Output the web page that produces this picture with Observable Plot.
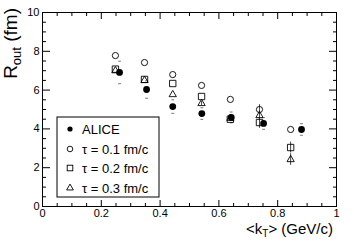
<!DOCTYPE html>
<html><head><meta charset="utf-8">
<script src="https://cdn.jsdelivr.net/npm/d3@7"></script>
<script src="https://cdn.jsdelivr.net/npm/@observablehq/plot@0.6"></script>
<style>
body{margin:0;background:#fff;font-family:"Liberation Sans",Arial,sans-serif}
#wrap{position:relative;width:354px;height:241px}
#wrap svg{display:block}
</style></head><body><div id="wrap"></div>
<script>
// ---- data ----
const aliceKt   = [0.262, 0.354, 0.443, 0.542, 0.642, 0.752, 0.881];
const aliceR    = [6.91, 6.03, 5.15, 4.79, 4.59, 4.28, 3.97];
const aliceStat = [0.08, 0.08, 0.08, 0.08, 0.08, 0.1, 0.12];
const aliceSys  = [0.58, 0.45, 0.35, 0.3, 0.28, 0.3, 0.3];

const modelKt = [0.248, 0.347, 0.443, 0.541, 0.639, 0.738, 0.844];
const tau01   = [7.78, 7.42, 6.80, 6.24, 5.52, 5.00, 3.97];
const tau01E  = [0, 0, 0, 0, 0, 0.25, 0];
const tau02   = [7.08, 6.55, 6.34, 5.67, 4.50, 4.33, 3.04];
const tau02E  = [0, 0, 0, 0, 0.12, 0.3, 0.28];
const tau03   = [7.00, 6.50, 5.77, 5.31, 4.55, 4.69, 2.42];
const tau03E  = [0, 0, 0, 0.1, 0.12, 0.25, 0.3];

const xMajor = [0, 0.2, 0.4, 0.6, 0.8, 1];
const xMajorLabels = ["0", "0.2", "0.4", "0.6", "0.8", "1"];
const xMinor = [0.05,0.1,0.15,0.25,0.3,0.35,0.45,0.5,0.55,0.65,0.7,0.75,0.85,0.9,0.95];
const yMajor = [0, 2, 4, 6, 8, 10];
const yMinor = [0.5,1,1.5,2.5,3,3.5,4.5,5,5.5,6.5,7,7.5,8.5,9,9.5];

const legendLabels = ["ALICE", "τ = 0.1 fm/c", "τ = 0.2 fm/c", "τ = 0.3 fm/c"];

// ---- tables ----
const alice = aliceKt.map((k, i) => ({kt: k, r: aliceR[i], stat: aliceStat[i], sys: aliceSys[i]}));
const sysMarks = alice.flatMap(d => [{kt: d.kt, r: d.r + d.sys}, {kt: d.kt, r: d.r - d.sys}]);
const mk = (vals, errs) => modelKt.map((k, i) => ({kt: k, r: vals[i], e: errs[i]}));
const m1 = mk(tau01, tau01E), m2 = mk(tau02, tau02E), m3 = mk(tau03, tau03E);

const hbar = {draw(ctx, size) { const r = Math.sqrt(size / Math.PI); ctx.moveTo(-r, 0); ctx.lineTo(r, 0); }};

const errRule = (data, stroke) => Plot.ruleX(data.filter(d => d.e > 0), {x: "kt", y1: d => d.r - d.e, y2: d => d.r + d.e, stroke, strokeWidth: 1});

const plot = Plot.plot({
  width: 354, height: 241,
  marginLeft: 42, marginRight: 18, marginTop: 12, marginBottom: 35,
  style: {fontFamily: "'Liberation Sans', Arial, sans-serif", fontSize: "11px", background: "white", color: "black", overflow: "visible"},
  x: {domain: [0, 1]},
  y: {domain: [0, 10]},
  marks: [
    Plot.axisX(xMajor, {anchor: "bottom", tickSize: -6, tickPadding: 9, tickFormat: (d) => xMajorLabels[xMajor.indexOf(d)], label: null, fontSize: 11}),
    Plot.axisX(xMinor, {anchor: "bottom", tickSize: -3, fill: "none", label: null}),
    Plot.axisX(xMajor, {anchor: "top", tickSize: -6, fill: "none", label: null}),
    Plot.axisX(xMinor, {anchor: "top", tickSize: -3, fill: "none", label: null}),
    Plot.axisY(yMajor, {anchor: "left", tickSize: -8, tickPadding: 11, tickFormat: d => String(d), label: null, fontSize: 11}),
    Plot.axisY(yMinor, {anchor: "left", tickSize: -4, fill: "none", label: null}),
    Plot.axisY(yMajor, {anchor: "right", tickSize: -8, fill: "none", label: null}),
    Plot.axisY(yMinor, {anchor: "right", tickSize: -4, fill: "none", label: null}),
    Plot.frame({stroke: "black"}),
    errRule(m1, "#444"), errRule(m2, "#444"), errRule(m3, "#444"),
    Plot.ruleX(alice, {x: "kt", y1: d => d.r - d.stat, y2: d => d.r + d.stat, stroke: "#444"}),
    Plot.dot(sysMarks, {x: "kt", y: "r", symbol: hbar, r: 1.4, stroke: "#777", strokeWidth: 1}),
    Plot.dot(m1, {x: "kt", y: "r", r: 3.1, stroke: "black", fill: "none", strokeWidth: 0.9}),
    Plot.dot(m2, {x: "kt", y: "r", symbol: "square", r: 3.6, stroke: "black", fill: "none", strokeWidth: 0.9}),
    Plot.dot(m3, {x: "kt", y: "r", symbol: "triangle", r: 2.7, stroke: "black", fill: "none", strokeWidth: 0.9}),
    Plot.dot(alice, {x: "kt", y: "r", r: 3.4, fill: "black", stroke: "none"})
  ]
});

const wrap = document.getElementById("wrap");
wrap.appendChild(plot);

const svg = d3.select(plot);
const FF = "'Liberation Sans', Arial, sans-serif";
// y title
const yt = svg.append("text")
  .attr("transform", "translate(17,8) rotate(-90)")
  .attr("text-anchor", "end")
  .attr("font-size", 19).attr("fill", "black")
  .attr("font-family", FF);
yt.append("tspan").text("R");
yt.append("tspan").attr("font-size", 13).attr("dy", 4).text("out");
yt.append("tspan").attr("dy", -4).text(" (fm)");
// x title
const xt = svg.append("text")
  .attr("x", 333).attr("y", 234)
  .attr("text-anchor", "end")
  .attr("font-size", 15).attr("fill", "black")
  .attr("font-family", FF);
xt.append("tspan").text("<k");
xt.append("tspan").attr("font-size", 10).attr("dy", 3).text("T");
xt.append("tspan").attr("dy", -3).text("> (GeV/c)");

// legend
const lg = svg.append("g").attr("transform", "translate(57,117)");
lg.append("rect").attr("width", 102).attr("height", 80).attr("fill", "white").attr("stroke", "black");
const rowY = [12, 32, 51, 71];
const symDraw = [
  g => g.append("circle").attr("r", 2.6).attr("fill", "black"),
  g => g.append("circle").attr("r", 2.8).attr("fill", "none").attr("stroke", "black").attr("stroke-width", 0.9),
  g => g.append("rect").attr("x", -2.8).attr("y", -2.8).attr("width", 5.6).attr("height", 5.6).attr("fill", "none").attr("stroke", "black").attr("stroke-width", 0.9),
  g => g.append("path").attr("d", d3.symbol(d3.symbolTriangle, 20)()).attr("fill", "none").attr("stroke", "black").attr("stroke-width", 0.9)
];
legendLabels.forEach((lab, i) => {
  const g = lg.append("g").attr("transform", `translate(13,${rowY[i]})`);
  symDraw[i](g);
  lg.append("text").attr("x", 25).attr("y", rowY[i]).attr("dy", "0.35em")
    .attr("text-anchor", "start")
    .attr("font-size", 13).attr("fill", "black")
    .attr("font-family", FF).text(lab);
});
</script></body></html>
